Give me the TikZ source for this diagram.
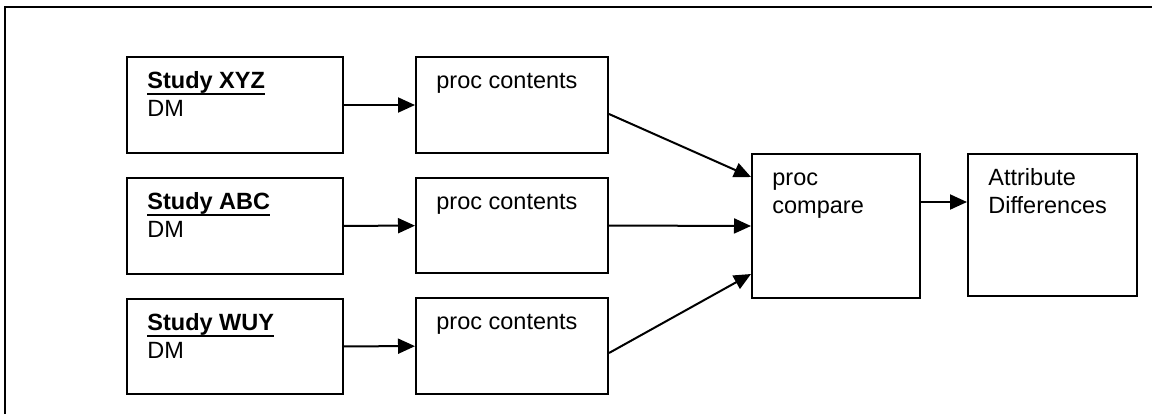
\documentclass[tikz,border=0pt]{standalone}
\usepackage{fontspec}
\setmainfont{Liberation Sans}
\usetikzlibrary{arrows.meta}

\newcommand{\studyul}[1]{\setbox0\hbox{\textbf{#1}}\rlap{\copy0}\rule[-3.65pt]{\wd0}{1.3pt}}

\tikzset{
    box/.style={draw, line width=1pt, inner sep=0pt, anchor=north west},
    lbl/.style={inner sep=0pt, anchor=base west, align=left,
        font=\fontsize{11.75}{14}\selectfont, xshift=10.5pt, yshift=-16pt},
    lbltwo/.style={lbl, yshift=-14pt},
    conn/.style={line width=1pt, -{Triangle[length=8.5pt,width=7.5pt]}}
}

\begin{document}
\begin{tikzpicture}[x=0.5pt, y=-0.5pt]
        \useasboundingbox (0,0) rectangle (1152,414);

        % frame
        \draw[line width=1pt] (5,414) |- (1152,7);

        % studies
        \node[box, minimum width=108pt, minimum height=48pt] (xyz) at (126,56) {};
        \node[lbltwo] (xyzT) at (xyz.north west) {\studyul{Study XYZ}\\DM};
        \node[box, minimum width=108pt, minimum height=48pt] (abc) at (126,177) {};
        \node[lbltwo] (abcT) at (abc.north west) {\studyul{Study ABC}\\DM};
        \node[box, minimum width=108pt, minimum height=47.5pt] (wuy) at (126,298) {};
        \node[lbltwo] (wuyT) at (wuy.north west) {\studyul{Study WUY}\\DM};

        % proc contents
        \node[box, minimum width=96pt, minimum height=48pt] (pcA) at (415,56) {};
        \node[lbl] (pcAT) at (pcA.north west) {proc contents};
        \node[box, minimum width=96pt, minimum height=47.5pt] (pcB) at (415,177) {};
        \node[lbl] (pcBT) at (pcB.north west) {proc contents};
        \node[box, minimum width=96pt, minimum height=48pt] (pcC) at (415,297) {};
        \node[lbl] (pcCT) at (pcC.north west) {proc contents};

        % proc compare
        \node[box, minimum width=84pt, minimum height=72pt] (cmp) at (751,153) {};
        \node[lbltwo] (cmpT) at (cmp.north west) {proc\\compare};

        % result
        \node[box, minimum width=84.5pt, minimum height=71pt] (attr) at (967,153) {};
        \node[lbltwo] (attrT) at (attr.north west) {Attribute\\Differences};

        % arrows
        \draw[conn] (xyz) -- (pcA);
        \draw[conn] (abc) -- (pcB);
        \draw[conn] (wuy) -- (pcC);
        \draw[conn] ([yshift=-4.5pt]pcA.east) -- ([yshift=24.5pt]cmp.west);
        \draw[conn] (pcB.east) -- (cmp.west);
        \draw[conn] ([yshift=-3.5pt]pcC.east) -- ([yshift=-24pt]cmp.west);
        \draw[conn] ([yshift=12pt]cmp.east) -- ([yshift=12pt]cmp.east -| attr.west);
\end{tikzpicture}
\end{document}
